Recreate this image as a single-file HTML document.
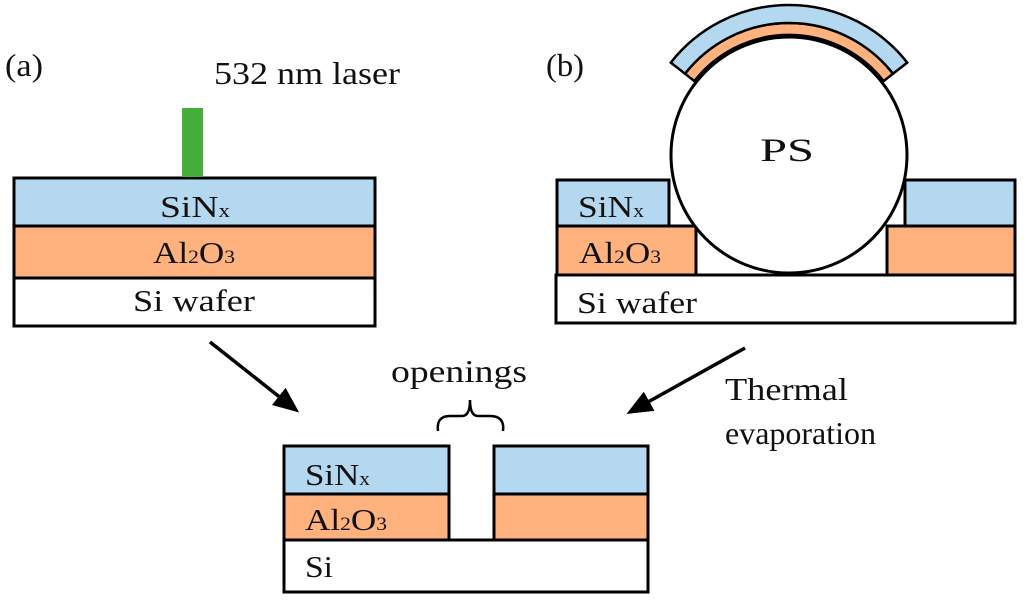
<!DOCTYPE html>
<html><head><meta charset="utf-8"><style>
html,body{margin:0;padding:0;background:#fff}
svg{display:block}
text{font-family:"Liberation Serif",serif;fill:#111}
</style></head><body>
<svg width="1024" height="601" viewBox="0 0 1024 601" xmlns="http://www.w3.org/2000/svg">
<defs><marker id="ah" markerWidth="26" markerHeight="22" refX="22" refY="11" orient="auto" markerUnits="userSpaceOnUse" viewBox="0 0 26 22"><path d="M0,0 L26,11 L0,22 Z" fill="#000"/></marker></defs>
<g stroke="#000" stroke-width="3">
<rect x="14" y="178" width="361" height="48" fill="#b4d8ef"/>
<rect x="14" y="226" width="361" height="52" fill="#ffb27e"/>
<rect x="14" y="278" width="361" height="48" fill="#fff"/>
</g>
<rect x="182" y="108" width="21" height="69" fill="#44b03b"/>
<text x="5" y="76" font-size="32" textLength="38" lengthAdjust="spacingAndGlyphs">(a)</text>
<text x="214" y="84" font-size="32" textLength="186" lengthAdjust="spacingAndGlyphs">532 nm laser</text>
<text x="160" y="217" font-size="31" textLength="70" lengthAdjust="spacingAndGlyphs">SiN<tspan font-size="19">x</tspan></text>
<text x="153" y="263" font-size="31" textLength="82" lengthAdjust="spacingAndGlyphs">Al<tspan font-size="19">2</tspan>O<tspan font-size="19">3</tspan></text>
<text x="133" y="311" font-size="31" textLength="122" lengthAdjust="spacingAndGlyphs">Si wafer</text>

<g stroke="#000" stroke-width="3">
<rect x="557" y="180" width="112" height="46" fill="#b4d8ef"/>
<rect x="557" y="226" width="139" height="49" fill="#ffb27e"/>
<rect x="905" y="180" width="110" height="46" fill="#b4d8ef"/>
<rect x="887" y="226" width="128" height="49" fill="#ffb27e"/>
<rect x="556" y="275" width="459" height="48" fill="#fff"/>
<circle cx="789" cy="155" r="118" fill="#fff"/>
<path d="M694.4 81.1 L685 73.7 A132 132 0 0 1 893 73.7 L883.6 81.1 A120 120 0 0 0 694.4 81.1 Z" fill="#ffb27e" stroke-width="2.5"/>
<path d="M685 73.7 L670.8 62.6 A150 150 0 0 1 907.2 62.6 L893 73.7 A132 132 0 0 0 685 73.7 Z" fill="#b4d8ef" stroke-width="2.5"/>
</g>
<text x="546" y="76" font-size="32" textLength="38" lengthAdjust="spacingAndGlyphs">(b)</text>
<text x="760" y="161" font-size="33" textLength="54" lengthAdjust="spacingAndGlyphs">PS</text>
<text x="578" y="217" font-size="31" textLength="66" lengthAdjust="spacingAndGlyphs">SiN<tspan font-size="19">x</tspan></text>
<text x="579" y="263" font-size="31" textLength="82" lengthAdjust="spacingAndGlyphs">Al<tspan font-size="19">2</tspan>O<tspan font-size="19">3</tspan></text>
<text x="577" y="313" font-size="31" textLength="120" lengthAdjust="spacingAndGlyphs">Si wafer</text>

<line x1="210" y1="342" x2="296" y2="410" stroke="#000" stroke-width="3.5" marker-end="url(#ah)"/>
<line x1="745" y1="348" x2="630" y2="412" stroke="#000" stroke-width="3.5" marker-end="url(#ah)"/>
<text x="725" y="400" font-size="32" textLength="123" lengthAdjust="spacingAndGlyphs">Thermal</text>
<text x="725" y="444" font-size="32" textLength="151" lengthAdjust="spacingAndGlyphs">evaporation</text>

<g stroke="#000" stroke-width="3">
<rect x="284" y="446" width="165" height="48" fill="#b4d8ef"/>
<rect x="284" y="494" width="165" height="46" fill="#ffb27e"/>
<rect x="494" y="446" width="154" height="48" fill="#b4d8ef"/>
<rect x="494" y="494" width="154" height="46" fill="#ffb27e"/>
<rect x="284" y="540" width="364" height="52" fill="#fff"/>
</g>
<path d="M438 431 Q436 416 450 416 L462 416 Q470 416 470 400 Q470 416 478 416 L490 416 Q505 416 503 431" fill="none" stroke="#000" stroke-width="2.5"/>
<text x="391" y="382" font-size="32" textLength="136" lengthAdjust="spacingAndGlyphs">openings</text>
<text x="305" y="485" font-size="31" textLength="65" lengthAdjust="spacingAndGlyphs">SiN<tspan font-size="19">x</tspan></text>
<text x="305" y="530" font-size="31" textLength="82" lengthAdjust="spacingAndGlyphs">Al<tspan font-size="19">2</tspan>O<tspan font-size="19">3</tspan></text>
<text x="305" y="577" font-size="31" textLength="28" lengthAdjust="spacingAndGlyphs">Si</text>
</svg>
</body></html>
